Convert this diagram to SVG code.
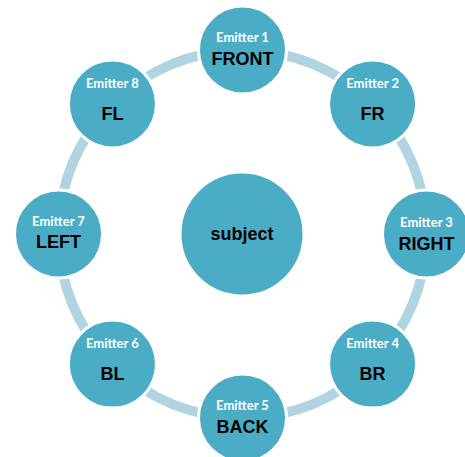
<svg xmlns="http://www.w3.org/2000/svg" width="465" height="457" viewBox="0 0 465 457">
<style>
.ring{fill:none;stroke:#B2D4E1;stroke-width:10}
.node{fill:#4BACC6;stroke:#FFFFFF;stroke-width:3}
.em{font-family:Lato,"Open Sans",sans-serif;font-weight:bold;font-size:13px;fill:#FFFFFF;text-anchor:middle}
.lb{font-family:"Liberation Sans",Arial,sans-serif;font-weight:bold;font-size:18px;fill:#000000;text-anchor:middle}
</style>
<rect width="465" height="457" fill="#FFFFFF"/>
<g id="connectors">
<path class="ring" d="M280.76,54.02 A184,184 0 0 1 342.71,79.68"/>
<path class="ring" d="M396.82,133.79 A184,184 0 0 1 422.47,195.74"/>
<path class="ring" d="M422.47,272.26 A184,184 0 0 1 396.82,334.21"/>
<path class="ring" d="M342.71,388.32 A184,184 0 0 1 280.76,413.98"/>
<path class="ring" d="M204.24,413.98 A184,184 0 0 1 142.29,388.32"/>
<path class="ring" d="M88.18,334.21 A184,184 0 0 1 62.53,272.26"/>
<path class="ring" d="M62.53,195.74 A184,184 0 0 1 88.18,133.79"/>
<path class="ring" d="M142.29,79.68 A184,184 0 0 1 204.24,54.02"/>
</g>
<g id="subject">
<circle class="node" cx="242" cy="234" r="62"/>
<text class="lb" x="242" y="240">subject</text>
</g>
<g id="emitter1">
<circle class="node" cx="242.5" cy="50" r="44"/>
<text class="em" x="242.5" y="42">Emitter 1</text>
<text class="lb" x="242.5" y="65">FRONT</text>
</g>
<g id="emitter2">
<circle class="node" cx="372.6" cy="103.9" r="44"/>
<text class="em" x="372.6" y="88">Emitter 2</text>
<text class="lb" x="372.6" y="120">FR</text>
</g>
<g id="emitter3">
<circle class="node" cx="426.5" cy="234" r="44"/>
<text class="em" x="426.5" y="227">Emitter 3</text>
<text class="lb" x="426.5" y="250">RIGHT</text>
</g>
<g id="emitter4">
<circle class="node" cx="372.6" cy="364.1" r="44"/>
<text class="em" x="372.6" y="348">Emitter 4</text>
<text class="lb" x="372.6" y="380">BR</text>
</g>
<g id="emitter5">
<circle class="node" cx="242.5" cy="418" r="44"/>
<text class="em" x="242.5" y="410">Emitter 5</text>
<text class="lb" x="242.5" y="433">BACK</text>
</g>
<g id="emitter6">
<circle class="node" cx="112.4" cy="364.1" r="44"/>
<text class="em" x="112.4" y="348">Emitter 6</text>
<text class="lb" x="112.4" y="380">BL</text>
</g>
<g id="emitter7">
<circle class="node" cx="58.5" cy="234" r="44"/>
<text class="em" x="58.5" y="226">Emitter 7</text>
<text class="lb" x="58.5" y="248">LEFT</text>
</g>
<g id="emitter8">
<circle class="node" cx="112.4" cy="103.9" r="44"/>
<text class="em" x="112.4" y="88">Emitter 8</text>
<text class="lb" x="112.4" y="120">FL</text>
</g>
</svg>
